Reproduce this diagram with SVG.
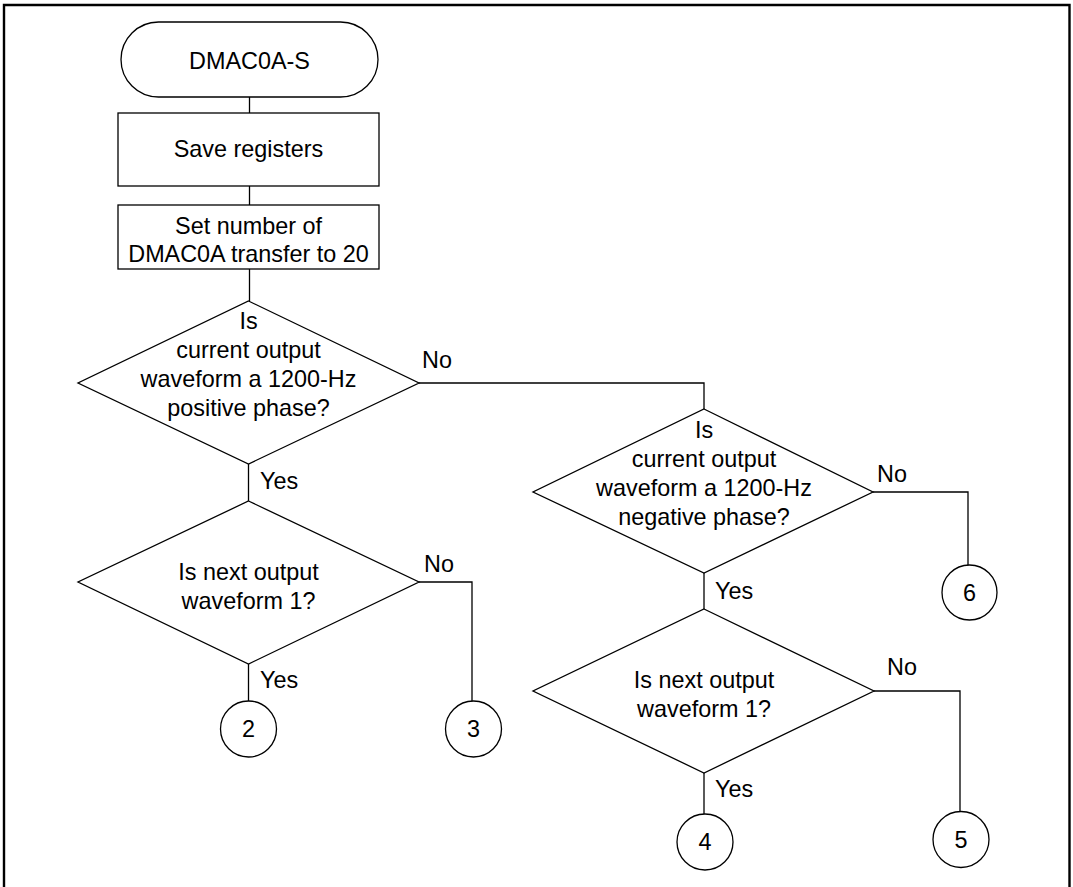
<svg xmlns="http://www.w3.org/2000/svg" width="1073" height="887" viewBox="0 0 1073 887">
<style>
.s{fill:#fff;stroke:#000;stroke-width:1.3}
.c{fill:none;stroke:#000;stroke-width:1.3}
text{font-family:"Liberation Sans",Arial,sans-serif;font-size:23.4px;fill:#000}
.m{text-anchor:middle}
</style>
<rect width="1073" height="887" fill="#fff"/>
<path d="M4,887 V5 H1069.5 V887" fill="none" stroke="#000" stroke-width="2.4"/>
<g id="connectors" class="c">
<path class="c" d="M249.5,97 V113"/>
<path class="c" d="M249.5,186 V205"/>
<path class="c" d="M249.5,269 V301"/>
<path class="c" d="M419,383 H704 V409"/>
<path class="c" d="M248.5,464 V501"/>
<path class="c" d="M419,582 H472 V701"/>
<path class="c" d="M248.5,664 V701"/>
<path class="c" d="M873,492 H968 V565"/>
<path class="c" d="M704,573 V609"/>
<path class="c" d="M874,691 H960 V811"/>
<path class="c" d="M704,773 V814"/>
</g>
<g id="labels">
<text x="422" y="368">No</text>
<text x="260" y="489">Yes</text>
<text x="424" y="572">No</text>
<text x="260" y="688">Yes</text>
<text x="877" y="482">No</text>
<text x="715" y="599">Yes</text>
<text x="887" y="675">No</text>
<text x="715" y="797">Yes</text>
</g>
<g id="start">
<rect class="s" x="121" y="22" width="257" height="75" rx="37.5"/>
<text class="m" x="249.5" y="69">DMAC0A-S</text>
</g>
<g id="save">
<rect class="s" x="118" y="113" width="261" height="73"/>
<text class="m" x="248.5" y="157">Save registers</text>
</g>
<g id="setnum">
<rect class="s" x="118" y="205" width="261" height="64"/>
<text class="m" x="248.5" y="234">Set number of</text>
<text class="m" x="248.5" y="262">DMAC0A transfer to 20</text>
</g>
<g id="dec1">
<polygon class="s" points="248.5,301 419,383 248.5,464 78,383"/>
<text class="m" x="248.5" y="329">Is</text>
<text class="m" x="248.5" y="358">current output</text>
<text class="m" x="248.5" y="387">waveform a 1200-Hz</text>
<text class="m" x="248.5" y="416">positive phase?</text>
</g>
<g id="dec2">
<polygon class="s" points="248.5,501 419,582 248.5,664 78,582"/>
<text class="m" x="248.5" y="580">Is next output</text>
<text class="m" x="248.5" y="609">waveform 1?</text>
</g>
<g id="dec3">
<polygon class="s" points="704,409 873,492 704,573 533,492"/>
<text class="m" x="704" y="438">Is</text>
<text class="m" x="704" y="467">current output</text>
<text class="m" x="704" y="496">waveform a 1200-Hz</text>
<text class="m" x="704" y="525">negative phase?</text>
</g>
<g id="dec4">
<polygon class="s" points="704,609 874,691 704,773 533,691"/>
<text class="m" x="704" y="688">Is next output</text>
<text class="m" x="704" y="717">waveform 1?</text>
</g>
<g id="c2"><circle class="s" cx="248.5" cy="729" r="28"/><text class="m" x="248.5" y="737">2</text></g>
<g id="c3"><circle class="s" cx="473.5" cy="729" r="28"/><text class="m" x="473.5" y="737">3</text></g>
<g id="c6"><circle class="s" cx="969.5" cy="592.5" r="27.5"/><text class="m" x="969.5" y="601">6</text></g>
<g id="c4"><circle class="s" cx="705" cy="842" r="28"/><text class="m" x="705" y="850">4</text></g>
<g id="c5"><circle class="s" cx="961" cy="839.5" r="28"/><text class="m" x="961" y="848">5</text></g>
</svg>
